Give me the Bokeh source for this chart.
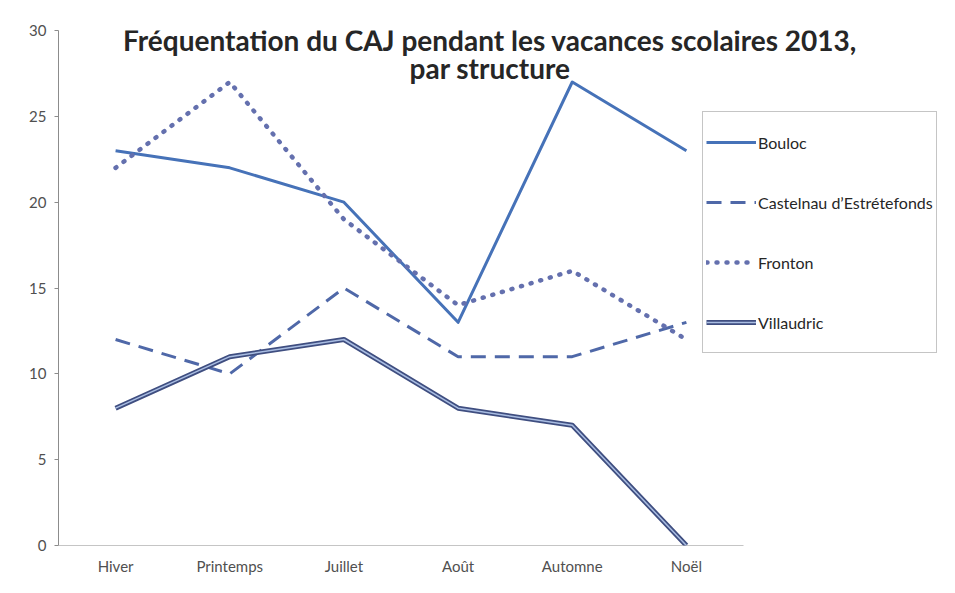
from bokeh.plotting import figure
from bokeh.models import FixedTicker, Legend, LegendItem, Label, Range1d
from bokeh.embed import file_html
from bokeh.resources import INLINE

categories = ["Hiver", "Printemps", "Juillet", "Août", "Automne", "Noël"]
bouloc = [23, 22, 20, 13, 27, 23]
castelnau = [12, 10, 15, 11, 11, 13]
fronton = [22, 27, 19, 14, 16, 12]
villaudric = [8, 11, 12, 8, 7, 0]
y_ticks = [0, 5, 10, 15, 20, 25, 30]
title_lines = ["Fréquentation du CAJ pendant les vacances scolaires 2013,", "par structure"]

xs = list(range(len(categories)))
n = len(categories)
FONT = "Lato"

W, H = 945, 585
LEFT, TOP, BOTTOM, RIGHT = 58, 30, 40, 2
cat_px = 685 / n  # pixel width of a category slot
frame_w = W - LEFT - RIGHT
x_end = -0.5 + frame_w / cat_px

p = figure(width=W, height=H, output_backend="svg", toolbar_location=None,
           x_range=Range1d(-0.5, x_end), y_range=Range1d(0, 30),
           min_border_left=LEFT, min_border_right=RIGHT, min_border_top=TOP, min_border_bottom=BOTTOM)
p.outline_line_color = None
p.xgrid.grid_line_color = None
p.ygrid.grid_line_color = None
p.background_fill_color = "white"
p.border_fill_color = "white"

p.xaxis.ticker = FixedTicker(ticks=xs)
p.xaxis.major_label_overrides = {i: c for i, c in enumerate(categories)}
p.xaxis.major_tick_out = 0
p.xaxis.major_tick_in = 0
p.xaxis.minor_tick_line_color = None
p.xaxis.axis_line_color = None
p.xaxis.major_label_standoff = 11
p.yaxis.ticker = FixedTicker(ticks=y_ticks)
p.yaxis.major_tick_out = 4
p.yaxis.major_tick_in = 0
p.yaxis.minor_tick_line_color = None
p.yaxis.major_label_standoff = 8
p.yaxis.axis_line_color = "#8c8c8c"
for ax in (p.xaxis, p.yaxis):
    ax.major_tick_line_color = "#8c8c8c"
    ax.major_label_text_font = FONT
    ax.major_label_text_font_size = "15px"
    ax.major_label_text_color = "#505050"

# category axis line limited to the category slots
p.segment(x0=[-0.5], y0=[0], x1=[n - 0.5], y1=[0], line_color="#8c8c8c", line_width=1)

r_b = p.line(xs, bouloc, line_color="#4672b8", line_width=3, line_join="round")
r_c = p.line(xs, castelnau, line_color="#4f68a8", line_width=3, line_dash="15 9")
r_f = p.line(xs, fronton, line_color="#6470ae", line_width=4.5, line_dash="1 9", line_cap="round")
r_v1 = p.line(xs, villaudric, line_color="#3f4e80", line_width=5, line_join="round")
r_v2 = p.line(xs, villaudric, line_color="#a9bde2", line_width=1.5, line_join="round")

legend = Legend(items=[
    LegendItem(label="Bouloc", renderers=[r_b]),
    LegendItem(label="Castelnau d’Estrétefonds", renderers=[r_c]),
    LegendItem(label="Fronton", renderers=[r_f]),
    LegendItem(label="Villaudric", renderers=[r_v1, r_v2]),
], location=(644, 192), orientation="vertical", padding=3, margin=0, spacing=6,
    label_height=54, glyph_height=54, glyph_width=50, label_standoff=2,
    label_text_font=FONT, label_text_font_size="16px", label_text_color="#262626",
    border_line_color="#8c8c8c", border_line_width=1, background_fill_alpha=1)
p.add_layout(legend)

p.add_layout(Label(x=3.28, y=29.42, text=title_lines[0], text_align="center", text_baseline="middle",
                   text_font=FONT, text_font_style="bold", text_font_size="28px", text_color="#262626"))
p.add_layout(Label(x=3.28, y=27.79, text=title_lines[1], text_align="center", text_baseline="middle",
                   text_font=FONT, text_font_style="bold", text_font_size="28px", text_color="#262626"))

open("out.html", "w").write(file_html(p, INLINE))
